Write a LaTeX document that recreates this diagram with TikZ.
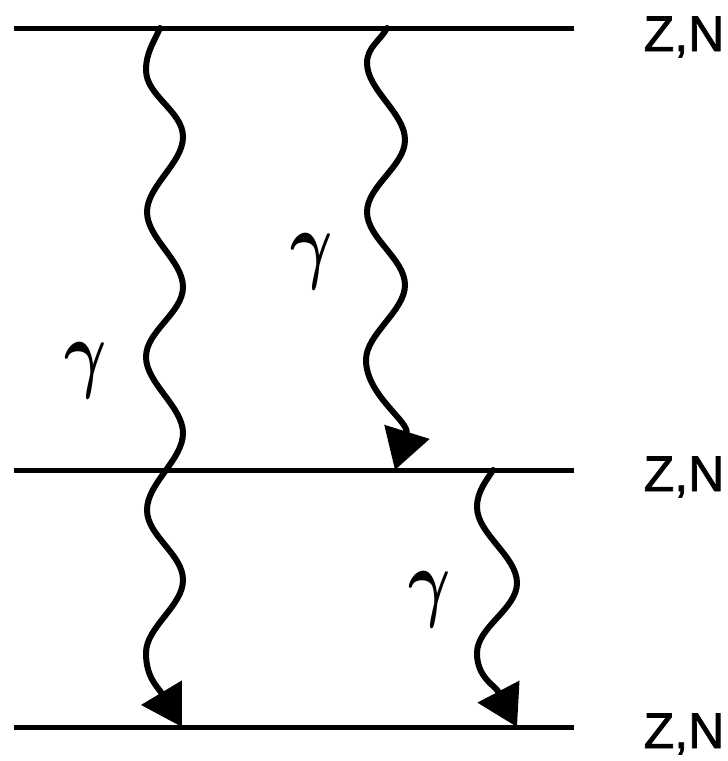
\documentclass[tikz,border=0pt]{standalone}
\usepackage{amsmath}
\usepackage{fontspec}
\setmainfont{Liberation Sans}
\newfontfamily\zfont{Liberation Sans}[FakeBold=1.5]
\usetikzlibrary{arrows.meta}
\begin{document}
\begin{tikzpicture}[x=1pt,y=-1pt,
  level/.style={line width=5pt},
  photon/.style={line width=6pt, line cap=round},
  tipped/.style={photon, -{Triangle[length=40pt,width=46pt]}},
  lbl/.style={font=\zfont\fontsize{50}{50}\selectfont, inner sep=0pt, anchor=base},
  glbl/.style={font=\Huge, inner sep=0pt}]
\useasboundingbox (0,0) rectangle (728,761);
% levels
\coordinate (t1) at (14,28);  \coordinate (t2) at (574,28);
\coordinate (m1) at (14,470); \coordinate (m2) at (574,470);
\coordinate (b1) at (14,727); \coordinate (b2) at (574,727);
\draw[level] (t1) -- (t2);
\draw[level] (m1) -- (m2);
\draw[level] (b1) -- (b2);
% labels
\node[lbl] (zn1) at (684,51) {Z,N};
\node[lbl] (zn2) at (684,491) {Z,N};
\node[lbl] (zn3) at (684,748) {Z,N};
\node[glbl] (g1) at (86,371) {\scalebox{2.6}[3.5]{$\boldsymbol{\gamma}$}};
\node[glbl] (g2) at (312,262) {\scalebox{2.6}[3.5]{$\boldsymbol{\gamma}$}};
\node[glbl] (g3) at (430,600) {\scalebox{2.6}[3.5]{$\boldsymbol{\gamma}$}};
% wave A
\coordinate (a0) at (160,28);
\coordinate (a1) at (146,70);
\coordinate (a2) at (183,137);
\coordinate (a3) at (147,212);
\coordinate (a4) at (183,287);
\coordinate (a5) at (146,357);
\coordinate (a6) at (183,433);
\coordinate (a7) at (147,510);
\coordinate (a8) at (183,580);
\coordinate (a9) at (146,653);
\coordinate (a10) at (182,727);
\draw[tipped] (a0) .. controls +(-5,12) and +(0,-18) .. (a1)
  .. controls +(0,26) and +(0,-26) .. (a2)
  .. controls +(0,26) and +(0,-26) .. (a3)
  .. controls +(0,26) and +(0,-26) .. (a4)
  .. controls +(0,26) and +(0,-26) .. (a5)
  .. controls +(0,26) and +(0,-26) .. (a6)
  .. controls +(0,27) and +(0,-27) .. (a7)
  .. controls +(0,26) and +(0,-26) .. (a8)
  .. controls +(0,26) and +(0,-26) .. (a9)
  .. controls +(0,25) and +(-24,-40) .. (a10);
% wave B
\coordinate (p0) at (387,28);
\coordinate (p1) at (367,63);
\coordinate (p2) at (405,140);
\coordinate (p3) at (367,212);
\coordinate (p4) at (405,285);
\coordinate (p5) at (366,360);
\coordinate (p6) at (395,470);
\draw[tipped] (p0) .. controls +(-6,12) and +(0,-16) .. (p1)
  .. controls +(0,27) and +(0,-27) .. (p2)
  .. controls +(0,26) and +(0,-26) .. (p3)
  .. controls +(0,26) and +(0,-26) .. (p4)
  .. controls +(0,26) and +(0,-26) .. (p5)
  .. controls +(0,35) and +(15,-48) .. (p6);
% wave C
\coordinate (c0) at (493,470);
\coordinate (c1) at (477,507);
\coordinate (c2) at (517,583);
\coordinate (c3) at (477,653);
\coordinate (c4) at (517,727);
\draw[tipped] (c0) .. controls +(-6,10) and +(0,-16) .. (c1)
  .. controls +(0,27) and +(0,-27) .. (c2)
  .. controls +(0,26) and +(0,-26) .. (c3)
  .. controls +(0,25) and +(-22,-42) .. (c4);
\end{tikzpicture}
\end{document}
